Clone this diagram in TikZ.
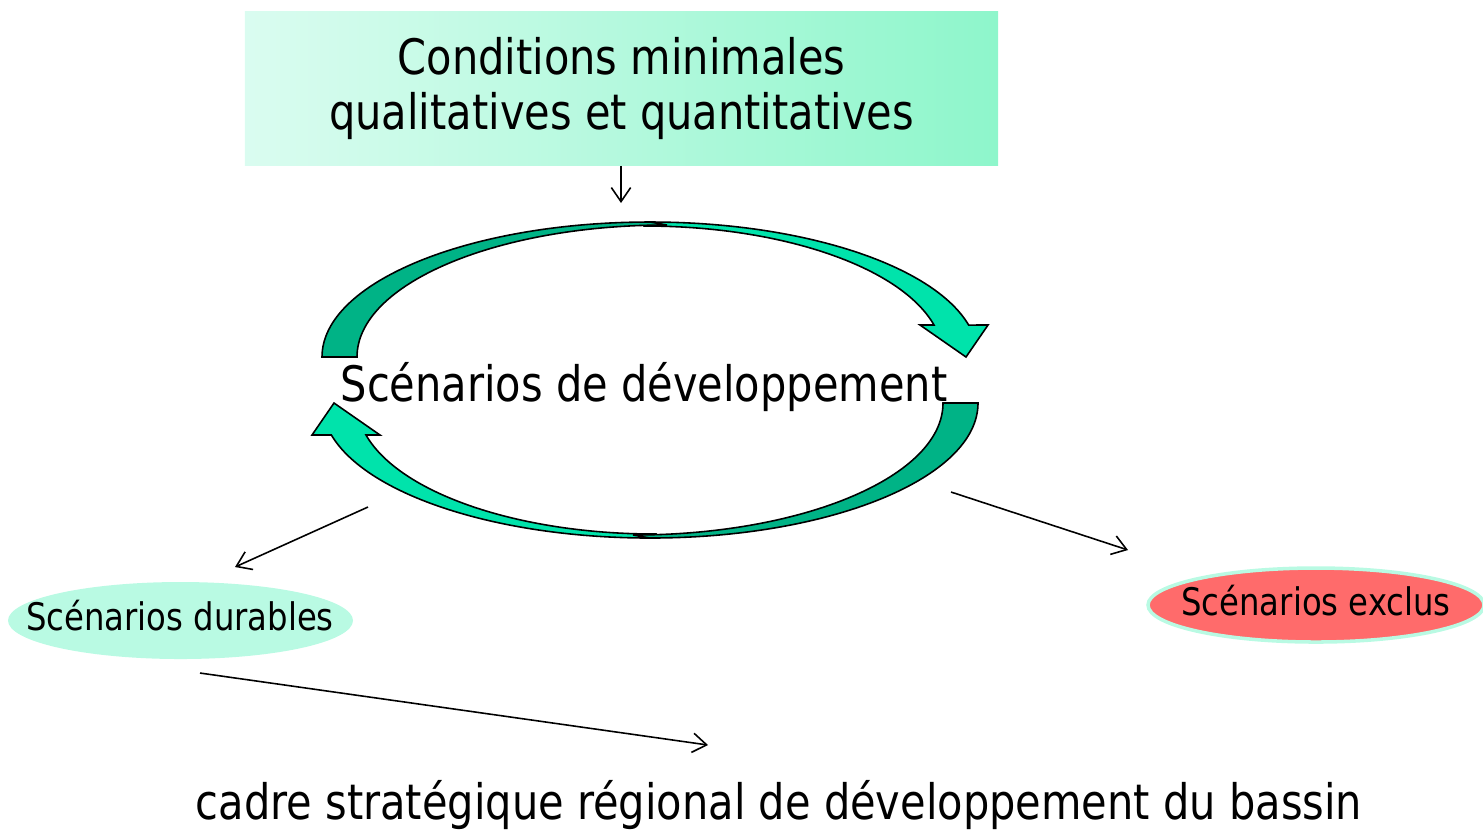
\documentclass[tikz,border=0pt]{standalone}
\usepackage{fontspec}
\setmainfont{DejaVu Sans}[FakeStretch=0.85]
\usepackage{xcolor}
\definecolor{cyclelight}{HTML}{00E3AB}
\definecolor{cycledark}{HTML}{00B386}
\definecolor{boxleft}{HTML}{DAFCF0}
\definecolor{boxright}{HTML}{8EF6CB}
\definecolor{durfill}{HTML}{B9FAE3}
\definecolor{exclfill}{HTML}{FF6B6B}
\usetikzlibrary{arrows.meta}

\begin{document}
\begin{tikzpicture}[x=0.01cm, y=-0.01cm,
    conn/.style={-{Straight Barb[length=4pt, width=5.5pt]}, line width=0.45pt},
    bigtext/.style={font=\fontsize{13.9}{15.9}\selectfont},
    smalltext/.style={font=\fontsize{10.8}{12}\selectfont}]
            \useasboundingbox (0, 0) rectangle (1483, 832);
            \clip (0, 0) rectangle (1483, 832);

            \node[bigtext, align=center, left color=boxleft, right color=boxright,
                minimum width=7.53cm, minimum height=1.53cm] (cond) at (621.5, 88.5)
                {Conditions minimales\\qualitatives et quantitatives};

            % cycle: top arrow, then the same turned over
            \foreach \rot in {0, 180} {
                \begin{scope}[rotate around={\rot:(650, 380)}, draw=black, line width=0.45pt]
                    \filldraw[fill=cyclelight] (650, 222)
                        arc[start angle=270, end angle=346.3, x radius=328, y radius=135]
                        -- (988, 325) -- (966, 357) -- (920, 325) -- (934, 325)
                        arc[start angle=345.86, end angle=270, x radius=298, y radius=131]
                        -- cycle;
                    \filldraw[fill=cycledark] (322, 357)
                        arc[start angle=180, end angle=270, x radius=328, y radius=135]
                        -- (667, 225)
                        arc[start angle=270, end angle=180, x radius=310, y radius=132]
                        -- cycle;
                \end{scope}
            }

            \node[bigtext] (dev) at (644, 387) {Scénarios de développement};

            % outcome ovals
            \fill[durfill] (180.5, 620.5) ellipse [x radius=172.5, y radius=38.5];
            \filldraw[fill=exclfill, draw=durfill, line width=1pt] (1316, 605)
                ellipse [x radius=168, y radius=37];
            \node[smalltext] (durables) at (180, 616) {Scénarios durables};
            \node[smalltext] (exclus) at (1316, 601) {Scénarios exclus};

            \node[bigtext] (cadre) at (779, 805)
                {cadre stratégique régional de développement du bassin};

            \coordinate (devin) at (621, 203);
            \coordinate (devsw) at (368, 507);
            \coordinate (devse) at (951, 492);
            \coordinate (durin) at (235, 567);
            \coordinate (exclin) at (1128, 550);
            \coordinate (durout) at (200, 673);
            \coordinate (cadrein) at (708, 745);

            \draw[conn] (cond.south -| devin) -- (devin);
            \draw[conn] (devsw) -- (durin);
            \draw[conn] (devse) -- (exclin);
            \draw[conn] (durout) -- (cadrein);
        \end{tikzpicture}
\end{document}
